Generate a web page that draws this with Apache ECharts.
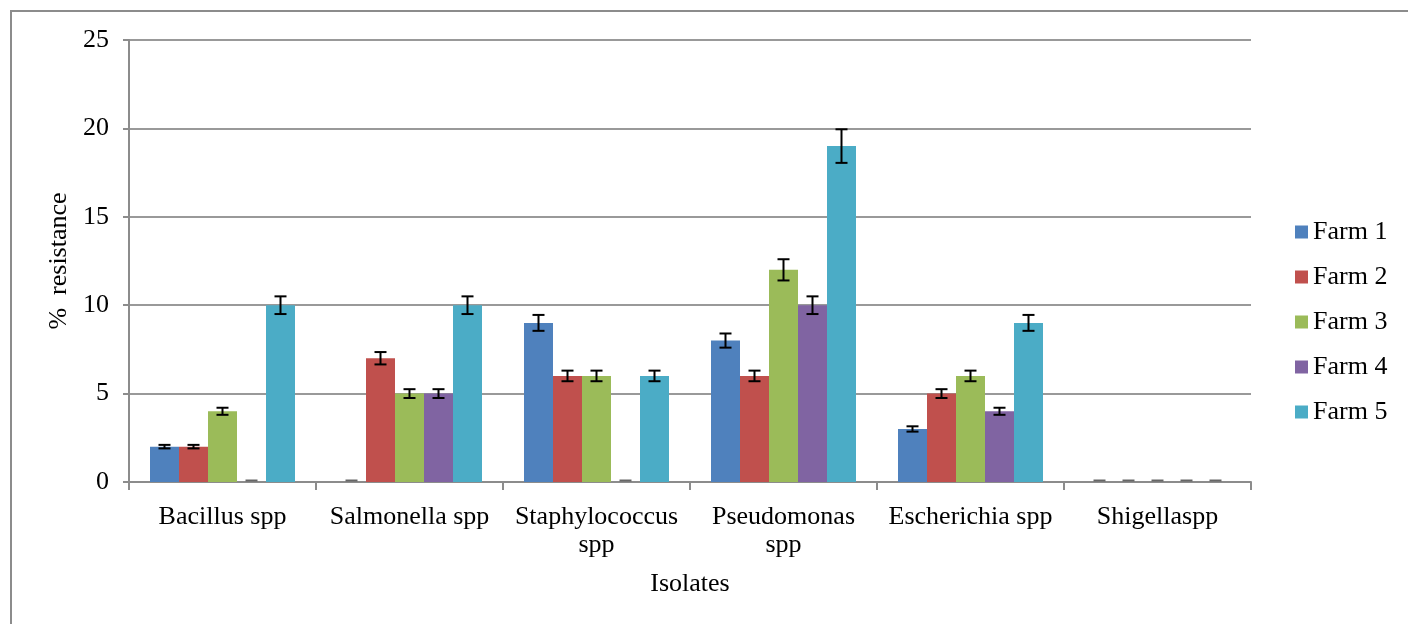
<!DOCTYPE html>
<html><head><meta charset="utf-8">
<script src="https://cdn.jsdelivr.net/npm/echarts@6/dist/echarts.min.js"></script>
<style>html,body{margin:0;padding:0;background:#fff}#c{width:1408px;height:624px}
#frame{position:absolute;left:10px;top:10px;width:1420px;height:640px;border:2px solid #8c8c8c;box-sizing:border-box;pointer-events:none}</style>
</head><body><div id="c"></div><div id="frame"></div>
<script>
const categories = ['Bacillus spp', 'Salmonella spp', 'Staphylococcus\nspp', 'Pseudomonas\nspp', 'Escherichia spp', 'Shigellaspp'];
const seriesNames = ['Farm 1', 'Farm 2', 'Farm 3', 'Farm 4', 'Farm 5'];
const farm1 = [2, 0, 9, 8, 3, 0];
const farm2 = [2, 7, 6, 6, 5, 0];
const farm3 = [4, 5, 6, 12, 6, 0];
const farm4 = [0, 5, 0, 10, 4, 0];
const farm5 = [10, 10, 6, 19, 9, 0];
const err1 = [0.1, 0, 0.45, 0.4, 0.15, 0];
const err2 = [0.1, 0.35, 0.3, 0.3, 0.25, 0];
const err3 = [0.2, 0.25, 0.3, 0.6, 0.3, 0];
const err4 = [0, 0.25, 0, 0.5, 0.2, 0];
const err5 = [0.5, 0.5, 0.3, 0.95, 0.45, 0];
const yTicks = [0, 5, 10, 15, 20, 25];

const values = [farm1, farm2, farm3, farm4, farm5];
const errors = [err1, err2, err3, err4, err5];
const colors = ['#4F81BD', '#C0504D', '#9BBB59', '#8064A2', '#4BACC6'];
const BW = 29;
const font = 'Liberation Serif';

const series = [];
values.forEach((v, i) => {
  series.push({
    name: seriesNames[i], type: 'bar', data: v, barWidth: BW, barGap: '0%',
    itemStyle: { color: colors[i] }, z: 2
  });
});
values.forEach((v, i) => {
  series.push({
    name: 'err' + i, type: 'custom', z: 5,
    data: v.map((val, k) => [k, val, errors[i][k]]),
    renderItem: function (params, api) {
      const k = api.value(0), val = api.value(1), e = api.value(2);
      const c = api.coord([k, val]);
      const x = c[0] + (i - 2) * BW;
      if (val === 0) {
        return { type: 'line', shape: { x1: x - 6, y1: c[1] - 1.5, x2: x + 6, y2: c[1] - 1.5 }, style: { stroke: '#666', lineWidth: 2 } };
      }
      const hi = api.coord([k, val + e])[1], lo = api.coord([k, val - e])[1];
      const st = { stroke: '#000', lineWidth: 2 };
      return { type: 'group', children: [
        { type: 'line', shape: { x1: x, y1: hi, x2: x, y2: lo }, style: st },
        { type: 'line', shape: { x1: x - 6, y1: hi, x2: x + 6, y2: hi }, style: st },
        { type: 'line', shape: { x1: x - 6, y1: lo, x2: x + 6, y2: lo }, style: st }
      ]};
    }
  });
});

const chart = echarts.init(document.getElementById('c'));
chart.setOption({
  animation: false,
  textStyle: { fontFamily: font },
  grid: { left: 129, right: 157, top: 40, bottom: 142 },
  legend: {
    data: seriesNames, orient: 'vertical', left: 1290, top: 214,
    itemWidth: 13, itemHeight: 13, itemGap: 19, icon: 'rect',
    textStyle: { fontFamily: font, fontSize: 26, color: '#000', lineHeight: 26 }
  },
  xAxis: {
    type: 'category', data: categories,
    name: 'Isolates', nameLocation: 'middle', nameGap: 89,
    nameTextStyle: { fontFamily: font, fontSize: 26, color: '#000' },
    axisLine: { lineStyle: { color: '#8c8c8c', width: 2 } },
    axisTick: { show: true, length: 8, alignWithLabel: false, lineStyle: { color: '#8c8c8c', width: 2 } },
    axisLabel: { fontFamily: font, fontSize: 26, color: '#000', margin: 21, lineHeight: 28, interval: 0 }
  },
  yAxis: {
    type: 'value', min: 0, max: 25, interval: 5,
    name: '%  resistance', nameLocation: 'middle', nameGap: 50, nameRotate: 90,
    nameTextStyle: { fontFamily: font, fontSize: 26, color: '#000' },
    axisLine: { show: true, lineStyle: { color: '#8c8c8c', width: 2 } },
    axisTick: { show: true, length: 6, lineStyle: { color: '#8c8c8c', width: 2 } },
    axisLabel: { fontFamily: font, fontSize: 26, color: '#000', margin: 20,
      formatter: v => yTicks.includes(v) ? String(v) : '' },
    splitLine: { lineStyle: { color: '#999', width: 2 } }
  },
  series: series
});
</script>
</body></html>
